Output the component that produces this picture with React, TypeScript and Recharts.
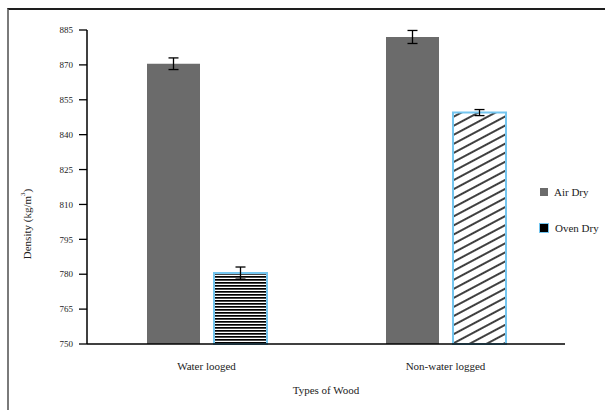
import React from "react";
import { BarChart, Bar, XAxis, YAxis, ErrorBar, Cell } from "recharts";

const categories = ["Water looged", "Non-water logged"];
const airDry = [870.5, 882];
const airDryErr = [2.5, 2.8];
const ovenDry = [780.5, 849.5];
const ovenDryErr = [2.6, 1.3];
const yTicks = [750, 765, 780, 795, 810, 825, 840, 855, 870, 885];
const seriesNames = ["Air Dry", "Oven Dry"];
const ovenFills = ["url(#hstripes)", "url(#diaghatch)"];

const FONT = '"Liberation Serif", "Times New Roman", serif';
const GREY = "#6b6b6b";
const SKY = "#74c6f0";

const data = categories.map((type, i) => ({
    type,
    air: airDry[i],
    airErr: airDryErr[i],
    oven: ovenDry[i],
    ovenErr: ovenDryErr[i]
}));

const edgeTicks = categories.map((_, i) => i).concat([categories.length]);

const YTitle = ({ viewBox }: any) => {
    const cx = viewBox.x + 27;
    const cy = viewBox.y + viewBox.height / 2 + 37;
    return (
        <text x={cx} y={cy} transform={`rotate(-90 ${cx} ${cy})`} textAnchor="middle" dominantBaseline="central"
            fontFamily={FONT} fontSize={11} fill="#222">
            Density (kg/m<tspan fontSize={7} dy={-4}>3</tspan><tspan dy={4}>)</tspan>
        </text>
    );
};

const XTitle = ({ viewBox }: any) => (
    <text x={viewBox.x + viewBox.width / 2} y={viewBox.y + 46} textAnchor="middle" dominantBaseline="central"
        fontFamily={FONT} fontSize={11} fill="#222">
        Types of Wood
    </text>
);

export default function App() {
    return (
        <div style={{ position: "absolute", left: 0, top: 0, width: 605, height: 410, background: "#fff" }}>
            <div style={{
                position: "absolute", left: 7, top: 8, right: 0, bottom: 0,
                borderTop: "2px solid #1e1e1e", borderLeft: "2px solid #7a7a7a"
            }} />
            <div style={{ position: "absolute", left: 0, top: 0 }}>
                <BarChart width={605} height={410} data={data} barSize={53} barGap={14}
                    margin={{ top: 30, right: 40, bottom: 0, left: 0 }}>
                    <defs>
                        <pattern id="hstripes" patternUnits="userSpaceOnUse" width={4} height={3}>
                            <rect width={4} height={3} fill="#fff" />
                            <rect width={4} height={1.7} fill="#000" />
                        </pattern>
                        <pattern id="diaghatch" patternUnits="userSpaceOnUse" width={8} height={8} patternTransform="rotate(-28)">
                            <rect width={8} height={8} fill="#fff" />
                            <line x1={0} y1={4} x2={8} y2={4} stroke="#000" strokeWidth={1.5} />
                        </pattern>
                    </defs>
                    <XAxis xAxisId="edge" type="number" domain={[0, categories.length]} ticks={edgeTicks}
                        tick={false} axisLine={false} tickSize={8} height={0}
                        tickLine={{ stroke: "#000", strokeWidth: 1.3 }} />
                    <XAxis xAxisId="cat" dataKey="type" height={66} tickLine={false} tickSize={8} tickMargin={10}
                        axisLine={{ stroke: "#000", strokeWidth: 1.5 }}
                        tick={{ fontFamily: FONT, fontSize: 11, fill: "#222" }}
                        label={<XTitle />} />
                    <YAxis width={87} domain={[750, 885]} ticks={yTicks} interval={0} tickSize={8} tickMargin={6}
                        axisLine={{ stroke: "#000", strokeWidth: 1.5 }}
                        tickLine={{ stroke: "#000", strokeWidth: 1.3 }}
                        tick={{ fontFamily: FONT, fontSize: 9, fill: "#222" }}
                        label={<YTitle />} />
                    <Bar xAxisId="cat" dataKey="air" name={seriesNames[0]} fill={GREY} isAnimationActive={false}>
                        <ErrorBar dataKey="airErr" width={5} stroke="#000" strokeWidth={1.3} direction="y" />
                    </Bar>
                    <Bar xAxisId="cat" dataKey="oven" name={seriesNames[1]} stroke={SKY} strokeWidth={2} isAnimationActive={false}>
                        {data.map((d, i) => (
                            <Cell key={d.type} fill={ovenFills[i]} stroke={SKY} strokeWidth={2} />
                        ))}
                        <ErrorBar dataKey="ovenErr" width={5} stroke="#000" strokeWidth={1.3} direction="y" />
                    </Bar>
                </BarChart>
            </div>
            <div style={{ position: "absolute", left: 540, top: 184, fontFamily: FONT, fontSize: 11, color: "#222" }}>
                <div style={{ display: "flex", alignItems: "center", height: 16 }}>
                    <span style={{ width: 8, height: 8, background: GREY, marginRight: 6 }} />
                    {seriesNames[0]}
                </div>
                <div style={{ display: "flex", alignItems: "center", height: 16, marginTop: 20, marginLeft: -1 }}>
                    <span style={{ width: 8, height: 8, background: "#000", border: `1.5px solid ${SKY}`, marginRight: 6 }} />
                    {seriesNames[1]}
                </div>
            </div>
        </div>
    );
}
